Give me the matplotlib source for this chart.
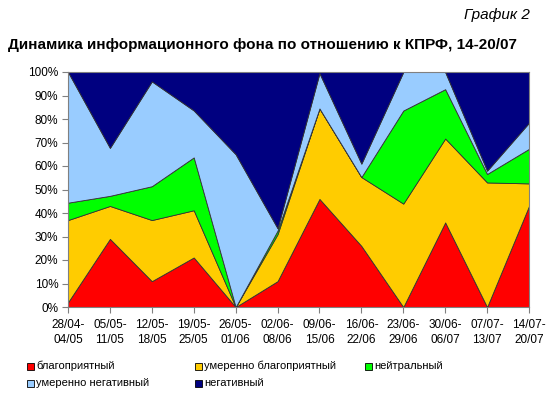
import matplotlib
matplotlib.use("Agg")
import matplotlib.pyplot as plt
from matplotlib.patches import Rectangle
import numpy as np

plt.rcParams['font.family'] = ['Liberation Sans', 'DejaVu Sans']

periods = ["28/04-\n04/05", "05/05-\n11/05", "12/05-\n18/05", "19/05-\n25/05", "26/05-\n01/06",
           "02/06-\n08/06", "09/06-\n15/06", "16/06-\n22/06", "23/06-\n29/06", "30/06-\n06/07",
           "07/07-\n13/07", "14/07-\n20/07"]
favorable = [2, 29, 11, 21, 0, 11, 46, 26, 0, 36, 0, 43]
mod_favorable = [35, 14, 26, 20, 0, 20, 38.5, 29.3, 44, 35.7, 53, 9.6]
neutral = [7.4, 4.3, 14.4, 22.4, 0, 1.5, 0, 0, 39.6, 21, 3.6, 14.7]
mod_negative = [55.6, 20.4, 44.6, 19.9, 65, 1, 15, 5.7, 16.4, 7.3, 1.4, 11.1]
negative = [0, 32.3, 4, 16.3, 35, 66.5, 0.5, 39, 0, 0, 42, 21.6]

labels = ["благоприятный", "умеренно благоприятный", "нейтральный",
          "умеренно негативный", "негативный"]
colors = ["#FF0000", "#FFCC00", "#00FF00", "#99CCFF", "#000080"]

data = np.array([favorable, mod_favorable, neutral, mod_negative, negative], dtype=float)
data = data / data.sum(axis=0) * 100

fig = plt.figure(figsize=(5.5, 3.98), dpi=100)
ax = fig.add_axes([68/550, 1-307/398, (529-68)/550, (307-72)/398])
x = np.arange(len(periods))
ax.stackplot(x, data, colors=colors, edgecolor="#333333", linewidth=0.6)

ax.set_xlim(0, len(periods)-1)
ax.set_ylim(0, 100)
ax.set_yticks(np.arange(0, 101, 10))
ax.set_yticklabels([f"{v}%" for v in range(0, 101, 10)], fontsize=8.5)
ax.set_xticks(x)
ax.set_xticklabels(periods, fontsize=8.5, linespacing=1.3)
ax.tick_params(axis='both', direction='out', length=4, width=0.8, color="#808080", pad=3)
ax.tick_params(axis='x', pad=5)
for s in ax.spines.values():
    s.set_color("#808080")
    s.set_linewidth(0.8)

fig.text(530/550, 1-15/398, "График 2", ha='right', va='center', fontsize=11, style='italic')
fig.text(262/550, 1-45/398, "Динамика информационного фона по отношению к КПРФ, 14-20/07",
         ha='center', va='center', fontsize=11, fontweight='bold')

# legend
pos = [(27, 366), (195, 366), (365, 366), (27, 383), (195, 383)]
for (px, py), lab, col in zip(pos, labels, colors):
    fig.add_artist(Rectangle((px/550, 1-(py+4)/398), 7/550, 7/398,
                             facecolor=col, edgecolor="black", linewidth=0.6,
                             transform=fig.transFigure))
    fig.text((px+9)/550, 1-py/398, lab, ha='left', va='center', fontsize=8)

fig.savefig("out.png", dpi=100)
